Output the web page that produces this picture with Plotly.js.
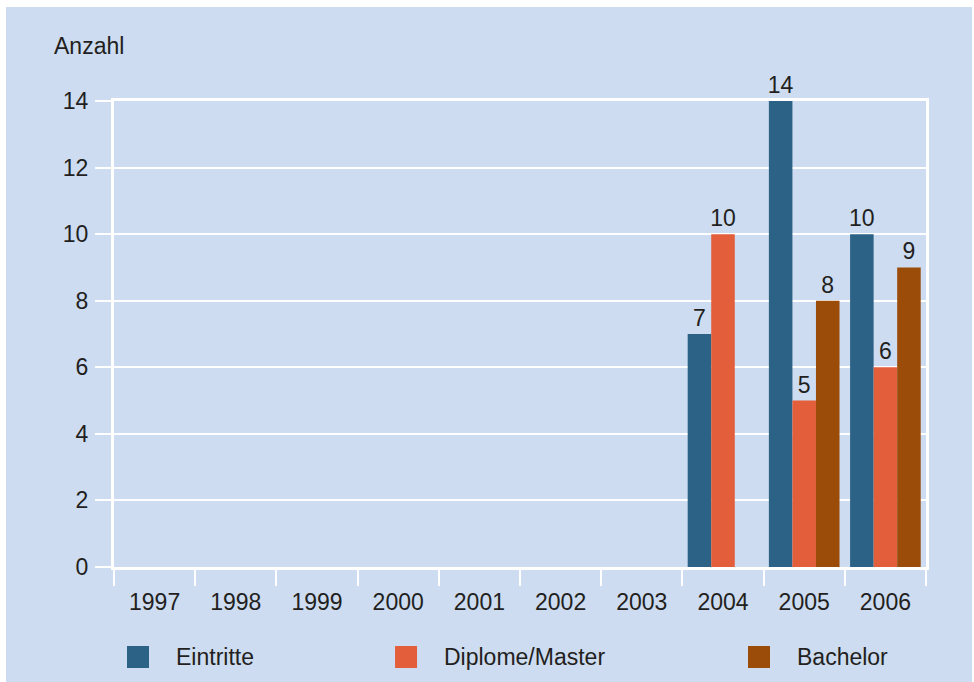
<!DOCTYPE html>
<html>
<head>
<meta charset="utf-8">
<script src="https://cdn.plot.ly/plotly-3.0.1.min.js"></script>
<style>html,body{margin:0;padding:0;background:#fff;}#chart{width:974px;height:682px;}</style>
</head>
<body>
<div id="chart"></div>
<script>
const years = ['1997','1998','1999','2000','2001','2002','2003','2004','2005','2006'];
const eintritte = [null,null,null,null,null,null,null,7,14,10];
const diplome   = [null,null,null,null,null,null,null,10,5,6];
const bachelor  = [null,null,null,null,null,null,null,null,8,9];
const seriesNames = ['Eintritte','Diplome/Master','Bachelor'];
const seriesColors = ['#2d6287','#e35e3a','#9a4c08'];
const yTitle = 'Anzahl';

const FONT = 'Liberation Sans, Arial, Helvetica, sans-serif';
const TXT = '#231f20';
const BG = '#cddcf0';

const seriesData = [eintritte, diplome, bachelor];
const traces = seriesData.map((vals, i) => ({
  type: 'bar',
  name: seriesNames[i],
  x: years,
  y: vals,
  marker: {color: seriesColors[i], line: {width: 0}},
  texttemplate: '%{y}',
  textposition: 'outside',
  constraintext: 'none',
  cliponaxis: false,
  textfont: {family: FONT, size: 23, color: TXT},
  hoverinfo: 'x+y+name',
  showlegend: false
}));

// legend drawn as shapes + annotations (paper coords)
const legX = [[0.0160, 0.0431, 0.0740], [0.3461, 0.3732, 0.4040], [0.7808, 0.8079, 0.8390]];
const shapes = [{
  type: 'rect', xref: 'paper', yref: 'paper', x0: -0.1330, x1: 1.0567, y0: -0.27, y1: 1.2017,
  fillcolor: BG, line: {width: 0}, layer: 'below'
}];
const annotations = [{
  xref: 'paper', yref: 'paper', x: -0.0764, y: 1.118, xanchor: 'left', yanchor: 'middle',
  text: yTitle, showarrow: false, font: {family: FONT, size: 23, color: TXT}
}];
seriesNames.forEach((n, i) => {
  shapes.push({type: 'rect', xref: 'paper', yref: 'paper', x0: legX[i][0], x1: legX[i][1],
    y0: -0.2167, y1: -0.1695, fillcolor: seriesColors[i], line: {width: 0}});
  annotations.push({xref: 'paper', yref: 'paper', x: legX[i][2], y: -0.1931, xanchor: 'left', yanchor: 'middle',
    text: n, showarrow: false, font: {family: FONT, size: 23, color: TXT}});
});

const layout = {
  width: 974, height: 682,
  margin: {l: 114, r: 48, t: 101, b: 115, pad: 0},
  paper_bgcolor: '#ffffff',
  plot_bgcolor: BG,
  font: {family: FONT, size: 23, color: TXT},
  barmode: 'group',
  bargap: 0.13,
  bargroupgap: 0,
  showlegend: false,
  xaxis: {
    type: 'category', categoryorder: 'array', categoryarray: years,
    range: [-0.5, 9.5],
    tickson: 'boundaries', ticks: 'outside', ticklen: 16, tickwidth: 2, tickcolor: '#ffffff',
    ticklabelstandoff: 12,
    showline: true, linecolor: '#ffffff', linewidth: 3, mirror: true,
    showgrid: false, zeroline: false,
    tickfont: {family: FONT, size: 23, color: TXT}
  },
  yaxis: {
    range: [0, 14], dtick: 2, tick0: 0,
    ticks: 'outside', ticklen: 16, tickwidth: 2, tickcolor: '#ffffff',
    ticklabelstandoff: 2,
    showline: true, linecolor: '#ffffff', linewidth: 3, mirror: true,
    showgrid: true, gridcolor: '#ffffff', gridwidth: 2, zeroline: false,
    tickfont: {family: FONT, size: 23, color: TXT}
  },
  shapes: shapes,
  annotations: annotations
};

Plotly.newPlot('chart', traces, layout, {displayModeBar: false, staticPlot: true});
</script>
</body>
</html>
